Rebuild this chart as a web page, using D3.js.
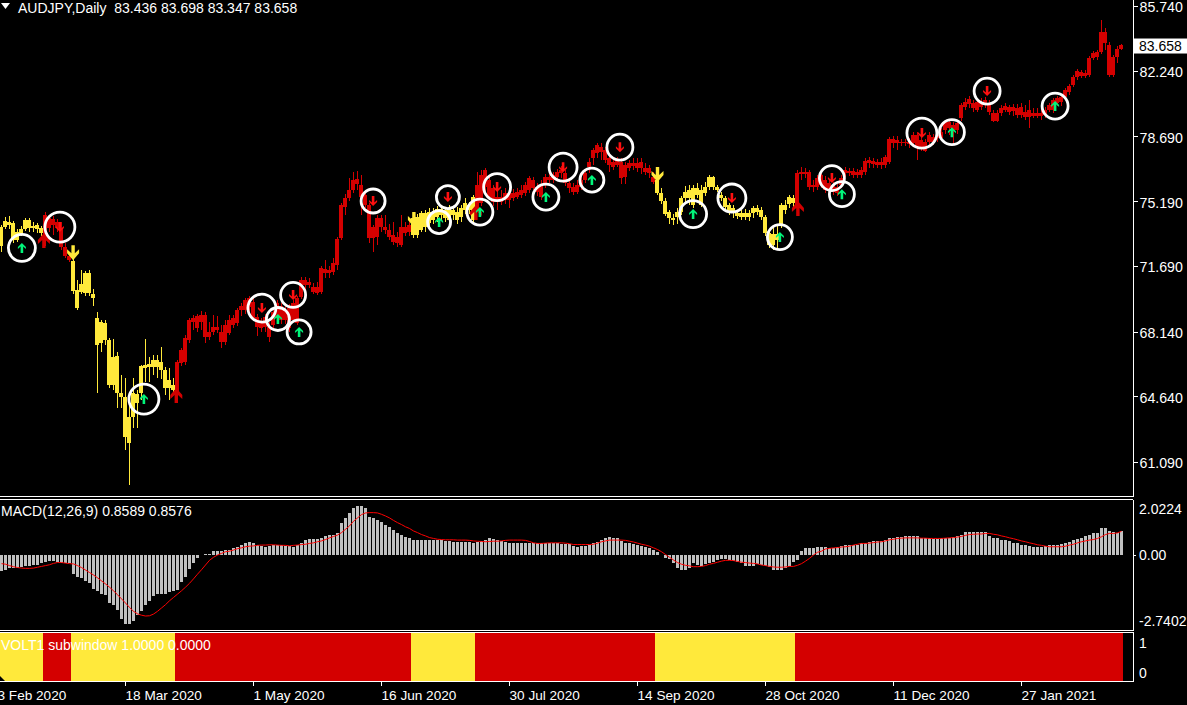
<!DOCTYPE html>
<html><head><meta charset="utf-8">
<script src="https://cdnjs.cloudflare.com/ajax/libs/d3/7.8.5/d3.min.js"></script>
<style>html,body{margin:0;padding:0;background:#000;overflow:hidden}svg{display:block}text{font-family:"Liberation Sans",Arial,sans-serif;font-size:14px;fill:#fff}</style>
</head><body><svg id="c" width="1187" height="705"></svg>
<script>
const opens=[72.76,73.79,74.06,74.01,73.09,73.41,73.68,74.17,73.84,73.90,
73.74,73.09,74.28,74.22,74.06,73.74,72.71,72.22,71.95,70.39,
70.28,70.22,71.30,70.17,68.87,67.52,68.60,67.68,65.25,66.82,
64.82,64.60,62.12,63.52,64.76,64.82,66.17,66.22,66.22,66.60,
66.49,66.06,65.09,65.25,64.87,66.44,66.49,67.68,68.66,68.33,
69.03,69.03,67.85,68.12,68.39,68.12,67.57,68.06,68.49,68.60,
69.30,69.30,69.47,69.74,68.92,68.33,68.39,68.39,68.49,68.87,
69.52,69.30,68.33,68.76,68.60,70.01,70.93,70.82,70.55,70.22,
70.28,71.52,71.47,71.36,71.74,73.20,74.87,75.36,75.79,76.39,
76.06,75.52,74.98,73.20,73.25,74.28,73.79,73.63,73.36,73.25,
72.82,73.79,73.52,73.36,73.36,73.63,74.55,74.01,74.17,74.33,
74.76,74.71,74.17,74.71,74.60,74.33,74.71,74.98,74.17,74.82,
75.09,76.87,76.33,75.90,75.41,75.14,75.25,75.63,75.36,75.41,
75.52,75.63,75.79,76.33,75.95,76.06,76.06,76.33,76.33,76.49,
76.71,76.71,76.17,75.95,75.68,75.95,76.33,77.03,77.52,77.79,
78.11,77.95,77.52,77.30,77.14,77.30,76.49,76.98,77.09,77.25,
76.98,76.98,76.98,76.49,76.33,75.63,75.20,74.60,74.28,74.33,
74.60,75.36,75.79,75.90,75.52,75.79,75.63,75.95,76.49,75.95,
75.52,75.36,74.98,74.82,74.55,74.55,74.55,74.55,74.55,74.82,
74.71,74.33,73.47,72.82,73.41,73.90,74.98,75.03,75.36,74.82,
76.76,76.76,76.76,76.06,75.95,76.06,76.33,76.17,76.06,75.95,
76.06,76.71,76.82,76.82,76.76,76.60,76.76,77.25,77.36,77.30,
77.30,77.14,77.30,78.55,78.49,78.38,78.33,78.38,78.33,78.76,
78.49,78.38,78.38,78.65,78.60,78.60,79.03,79.47,79.30,79.03,
79.68,80.28,80.44,80.49,80.11,80.55,80.39,80.49,79.95,79.52,
79.95,80.11,80.28,80.06,80.22,79.84,80.01,79.74,79.95,79.95,
79.79,79.84,80.11,80.11,80.49,80.55,80.82,81.09,81.47,81.90,
82.17,82.11,82.01,82.93,82.98,83.25,84.33,83.63,82.01,83.00,
83.436];
const closes=[73.79,74.11,73.90,73.09,73.52,73.68,74.17,73.74,73.74,73.68,
73.47,74.44,73.74,73.90,73.74,72.71,72.22,72.01,70.33,69.41,
70.71,71.30,70.22,69.95,67.41,68.66,67.68,65.25,66.76,64.82,
64.60,62.44,63.52,64.82,64.28,66.28,66.33,66.39,66.60,66.22,
66.06,65.09,65.52,64.98,66.49,67.14,67.79,68.76,68.87,68.98,
68.66,67.85,68.12,68.39,68.22,67.57,68.49,68.76,68.87,69.30,
69.52,69.85,69.95,68.87,68.39,68.66,68.92,67.85,69.20,69.68,
68.76,68.76,69.41,69.68,69.95,70.93,70.66,70.66,70.28,70.55,
71.57,71.30,71.30,71.84,73.14,74.98,75.36,75.79,76.33,76.11,
75.41,74.98,73.20,73.79,74.28,73.79,73.63,73.25,72.98,72.93,
73.79,73.47,73.90,74.28,74.33,74.55,73.79,74.60,74.60,74.76,
74.44,74.28,74.82,74.44,74.17,74.82,75.09,74.71,75.41,76.06,
76.60,75.95,75.41,75.14,75.14,75.41,75.63,75.25,75.63,75.68,
75.79,76.06,76.44,75.90,75.68,75.41,76.49,76.49,76.60,76.76,
76.87,76.17,75.90,75.68,76.06,76.33,76.71,77.30,77.95,78.22,
77.84,77.41,77.14,77.03,77.41,76.44,77.14,77.25,77.25,76.98,
77.30,76.76,76.71,76.22,75.63,75.20,74.49,74.28,74.17,74.60,
75.36,75.68,75.36,74.98,75.90,74.98,75.95,76.49,75.95,75.79,
75.36,74.87,74.60,74.60,74.39,74.33,74.33,74.33,74.82,74.60,
74.33,73.47,72.82,73.41,73.09,74.98,74.71,75.41,75.09,76.71,
76.66,76.66,75.95,75.95,76.44,76.60,75.79,75.79,75.68,75.63,
76.44,76.87,76.71,76.60,76.60,76.87,77.36,77.41,77.20,77.14,
77.14,77.57,78.55,78.33,78.33,78.33,78.38,78.28,78.76,78.11,
78.06,77.90,78.76,78.38,78.76,78.93,79.47,79.14,79.03,79.41,
80.39,80.55,80.71,80.22,80.55,80.28,80.66,80.01,79.52,79.95,
80.22,80.33,80.01,80.28,79.84,80.28,79.74,80.11,79.79,79.79,
79.95,80.11,80.39,80.66,80.76,80.82,81.20,81.41,81.90,82.22,
81.95,81.95,82.93,83.20,83.25,84.33,83.74,82.01,83.00,83.41,
83.658];
const highs=[73.90,74.33,74.39,74.11,73.68,73.84,74.28,74.28,74.06,74.01,
73.84,74.60,74.44,74.39,74.22,74.06,72.93,72.44,72.11,70.93,
71.47,71.41,71.47,70.44,69.20,68.76,68.76,67.79,67.74,67.03,
65.79,65.63,64.60,65.63,64.98,66.33,67.74,66.76,66.87,66.87,
67.30,66.22,66.17,65.63,66.60,67.25,67.95,68.87,69.03,69.09,
69.25,69.20,68.66,69.03,68.98,68.49,68.76,69.03,69.03,69.41,
69.68,69.95,70.06,69.95,69.09,68.87,69.09,68.66,69.41,69.85,
69.68,69.52,69.63,69.85,70.06,71.09,71.09,71.03,70.76,70.82,
71.68,72.01,71.68,72.11,73.25,75.09,75.57,76.44,76.76,76.82,
76.60,75.79,75.09,73.90,74.44,74.44,74.44,73.95,74.06,73.52,
74.44,74.06,74.17,74.49,74.49,74.66,74.71,74.82,74.82,74.93,
74.93,74.87,74.98,74.93,74.87,74.98,75.36,75.14,75.52,76.76,
76.87,76.98,76.55,76.06,75.79,75.79,75.90,75.95,75.84,75.90,
76.06,76.22,76.55,76.49,76.17,76.33,76.66,76.71,76.76,76.93,
77.09,76.87,76.44,76.17,76.33,76.60,76.87,77.52,78.06,78.33,
78.33,78.11,77.68,77.52,77.57,77.52,77.30,77.41,77.52,77.52,
77.52,77.25,77.14,76.76,76.87,75.90,75.36,74.71,74.49,74.82,
75.47,76.01,76.06,76.06,76.17,76.06,76.22,76.60,76.55,76.06,
75.68,75.47,75.09,74.98,74.71,74.71,74.76,74.71,74.93,74.98,
74.87,74.44,73.63,73.84,73.84,75.09,75.25,75.52,75.52,76.87,
77.03,76.98,76.87,76.33,76.60,76.76,76.55,76.33,76.22,76.11,
76.60,77.03,76.98,76.98,76.93,77.03,77.52,77.57,77.52,77.47,
77.52,77.68,78.66,78.71,78.71,78.55,78.55,78.60,78.93,78.93,
78.71,78.55,78.93,78.82,78.93,79.14,79.57,79.57,79.47,79.52,
80.49,80.76,80.87,80.66,80.71,80.76,80.82,80.66,80.11,80.11,
80.39,80.49,80.39,80.44,80.44,80.49,80.39,80.66,80.22,80.22,
80.33,80.28,80.49,80.76,80.87,80.93,81.30,81.52,82.01,82.33,
82.28,82.28,83.03,83.30,83.36,84.98,84.55,83.79,83.09,83.57,
83.698];
const lows=[72.44,73.68,73.68,72.93,72.98,73.30,73.57,73.52,73.52,73.47,
73.30,72.76,73.52,73.36,73.52,72.55,72.11,71.90,70.17,69.30,
70.17,70.06,70.06,69.52,64.82,67.03,67.41,65.09,64.98,64.01,
64.01,61.74,59.85,62.93,62.93,64.44,65.41,65.41,65.79,65.63,
65.57,64.71,64.44,64.87,64.71,66.28,66.33,67.52,68.22,68.12,
68.22,67.52,67.68,67.95,68.06,67.25,67.41,67.95,68.33,68.44,
68.98,69.09,69.20,68.76,67.90,68.12,68.12,67.57,68.33,68.66,
68.55,68.55,68.12,68.66,68.49,69.90,70.39,70.49,70.17,70.12,
70.17,71.03,71.03,71.20,71.47,73.09,74.44,75.20,75.63,75.79,
74.44,74.82,72.93,72.44,72.82,73.52,73.41,73.09,72.82,72.71,
72.71,73.30,73.30,73.20,73.20,73.52,73.52,73.74,73.95,74.06,
74.17,74.06,73.84,74.17,73.95,74.06,74.49,74.49,74.06,74.60,
74.93,75.68,75.25,74.93,74.71,74.98,75.03,74.82,75.20,75.30,
75.36,75.47,75.63,75.79,75.47,75.25,75.90,76.17,76.17,76.33,
76.44,76.01,75.63,75.52,75.57,75.79,76.17,76.71,77.14,77.52,
77.41,77.25,76.76,76.87,77.03,76.11,76.11,76.82,76.87,76.76,
76.66,76.60,76.44,76.11,75.52,75.03,74.39,73.95,73.90,73.95,
74.44,75.09,74.98,74.82,75.36,74.87,75.47,75.79,75.79,75.68,
75.20,74.76,74.44,74.28,74.22,74.17,74.17,74.11,74.28,74.44,
74.17,73.30,72.66,72.55,72.66,73.74,74.49,74.82,74.87,74.60,
76.33,76.44,75.79,75.68,75.79,75.90,75.63,75.52,75.52,75.47,
75.90,76.49,76.55,76.44,76.44,76.44,76.60,76.98,76.98,76.98,
76.93,76.98,77.20,78.06,77.95,78.17,78.17,78.06,78.17,77.41,
77.90,77.84,78.22,78.22,78.38,78.44,78.82,78.76,78.22,78.82,
79.52,80.11,80.22,80.01,80.01,80.11,80.22,79.84,79.47,79.47,
79.79,80.01,79.84,79.79,79.68,79.68,79.57,79.14,79.68,79.68,
79.57,79.68,80.01,79.95,80.33,80.33,80.66,80.93,81.36,81.74,
81.84,81.84,81.90,82.82,82.82,83.14,83.36,81.90,81.90,82.65,
83.347];
const macdHist=[-.57,-.54,-.48,-.45,-.45,-.43,-.39,-.38,-.36,-.36,
-.30,-.24,-.23,-.23,-.24,-.30,-.30,-.30,-.69,-.78,
-.84,-.93,-1.02,-1.23,-1.31,-1.41,-1.43,-1.73,-1.79,-1.97,
-2.29,-2.49,-2.49,-2.39,-2.15,-2.01,-1.82,-1.67,-1.49,-1.41,
-1.41,-1.41,-1.34,-1.31,-1.25,-.98,-.78,-.50,-.30,-.12,
.01,.02,.05,.14,.16,.16,.18,.18,.24,.30,
.36,.45,.48,.45,.36,.33,.29,.33,.36,.36,
.36,.33,.33,.30,.36,.42,.54,.57,.57,.57,
.62,.69,.72,.74,.81,1.16,1.35,1.53,1.70,1.78,
1.78,1.70,1.37,1.35,1.28,1.20,1.08,1.02,.90,.78,
.72,.66,.61,.54,.54,.54,.54,.56,.56,.56,
.54,.50,.50,.48,.48,.47,.47,.47,.45,.48,
.50,.56,.62,.57,.54,.50,.47,.44,.44,.44,
.45,.44,.44,.44,.44,.44,.44,.44,.42,.42,
.39,.39,.39,.33,.30,.32,.33,.36,.42,.48,
.56,.62,.66,.63,.60,.51,.42,.42,.39,.36,
.33,.30,.26,.18,.10,-.01,-.10,-.14,-.30,-.45,
-.53,-.53,-.45,-.30,-.36,-.38,-.33,-.30,-.24,-.18,
-.14,-.14,-.18,-.20,-.24,-.30,-.38,-.38,-.38,-.33,
-.36,-.38,-.42,-.54,-.54,-.54,-.45,-.38,-.24,-.18,
.14,.24,.24,.27,.30,.30,.30,.24,.26,.29,
.32,.36,.38,.38,.38,.44,.44,.47,.50,.50,
.50,.54,.60,.62,.66,.66,.68,.68,.68,.68,
.62,.62,.60,.57,.57,.60,.62,.62,.66,.69,
.72,.82,.82,.82,.82,.82,.82,.69,.62,.60,
.56,.54,.50,.45,.42,.38,.36,.33,.30,.30,
.30,.32,.36,.38,.38,.39,.44,.48,.54,.57,
.62,.69,.74,.80,.81,.97,.97,.86,.84,.81,
.8589];
const macdSignal=[-.31,-.33,-.38,-.42,-.45,-.47,-.48,-.48,-.47,-.44,
-.41,-.38,-.35,-.30,-.27,-.27,-.29,-.31,-.32,-.38,
-.45,-.54,-.63,-.72,-.82,-.93,-1.04,-1.16,-1.29,-1.43,
-1.58,-1.73,-1.89,-2.03,-2.12,-2.17,-2.20,-2.19,-2.13,-2.03,
-1.91,-1.79,-1.65,-1.53,-1.41,-1.29,-1.16,-1.02,-.86,-.69,
-.53,-.36,-.19,-.08,0,.06,.12,.14,.18,.23,
.26,.30,.32,.33,.35,.36,.36,.37,.37,.36,
.35,.35,.33,.35,.36,.38,.39,.42,.44,.48,
.51,.56,.62,.67,.72,.81,.93,1.05,1.22,1.34,
1.46,1.52,1.53,1.53,1.52,1.47,1.41,1.34,1.25,1.17,
1.10,1.02,.96,.87,.81,.74,.69,.63,.60,.57,
.56,.55,.55,.55,.54,.54,.54,.53,.51,.50,
.49,.48,.49,.50,.50,.51,.53,.54,.54,.54,
.54,.53,.49,.44,.42,.42,.43,.44,.44,.44,
.44,.43,.41,.38,.38,.38,.38,.38,.39,.43,
.48,.51,.54,.54,.54,.54,.53,.50,.47,.43,
.39,.36,.32,.26,.20,.12,.02,-.08,-.18,-.27,
-.33,-.37,-.39,-.42,-.42,-.41,-.38,-.33,-.30,-.26,
-.22,-.19,-.19,-.20,-.23,-.26,-.27,-.29,-.30,-.32,
-.36,-.38,-.41,-.43,-.44,-.44,-.43,-.41,-.41,-.37,
-.31,-.22,-.12,0,.10,.14,.22,.24,.26,.27,
.29,.30,.32,.36,.39,.42,.42,.43,.45,.47,
.48,.51,.55,.57,.60,.61,.62,.62,.62,.62,
.61,.61,.60,.60,.60,.60,.61,.62,.63,.65,
.67,.71,.74,.75,.76,.76,.78,.78,.75,.73,
.69,.66,.62,.59,.55,.51,.48,.44,.41,.37,
.35,.32,.30,.30,.30,.30,.32,.36,.39,.44,
.48,.51,.54,.56,.60,.66,.74,.78,.78,.80,
.8576];
const voltEndBars=[10,17,43,102,118,163,198,280];
const voltStates=[1,0,1,0,1,0,1,0];
const ringBars=[14.6,65.1,72.9,92.9,111.6,123.9,140.4,154.6,182.6,207.6,230.1,246.4];
const ringPrices=[73.79,69.41,70.12,75.20,75.41,75.95,77.03,78.11,75.36,76.44,78.87,81.14];
const ringUpBars=[5.1,35.6,69.1,74.4,109.4,119.6,136.1,147.6,172.9,194.6,210.1,237.6,263.4];
const ringUpPrices=[72.66,64.49,68.82,68.12,74.06,74.60,75.41,76.33,74.49,73.25,75.57,78.92,80.33];
const switchRedBars=[10.6,43.7,118.6,199.1];
const switchRedPrices=[73.09,64.71,74.60,74.82];
const switchYellowBars=[17.9,103.1,164];
const switchYellowPrices=[72.38,74.17,76.60];
const priceTicks=[85.74,82.24,78.69,75.19,71.69,68.14,64.64,61.09];
const dateLabels=["3 Feb 2020","18 Mar 2020","1 May 2020","16 Jun 2020","30 Jul 2020","14 Sep 2020","28 Oct 2020","11 Dec 2020","27 Jan 2021"];
const dateBars=[-1,31,63,95,127,159,191,223,255];
const macdExtent=[-2.7402,2.0224];
const lastOHLC=[83.436,83.698,83.347,83.658];

const RED="#d40000",YEL="#ffe93b",GREY="#c0c0c0";
const svg=d3.select("#c");
const W=1187,H=705,axisX=1133;
const x=d3.scaleLinear().domain([0,280]).range([1.5,1121.5]);
const y=d3.scaleLinear().domain([61.09,85.74]).range([462,6]);
const ym=d3.scaleLinear().domain(macdExtent).range([631,499]);
const yv=d3.scaleLinear().domain([0,1]).range([673,643]);
svg.append("rect").attr("width",W).attr("height",H).attr("fill","#000");

const stateOf=i=>voltStates[voltEndBars.findIndex(e=>i<=e)];
const crisp=g=>g.attr("shape-rendering","crispEdges");

// candles
const cg=svg.append("g").call(crisp);
const bars=d3.range(closes.length);
cg.selectAll("line.w").data(bars).join("line").attr("class","w")
 .attr("x1",i=>x(i)).attr("x2",i=>x(i)).attr("y1",i=>y(highs[i])).attr("y2",i=>y(lows[i]))
 .attr("stroke",i=>stateOf(i)?YEL:RED).attr("stroke-width",1);
cg.selectAll("rect.b").data(bars).join("rect").attr("class","b")
 .attr("x",i=>x(i)-2.5).attr("width",4)
 .attr("y",i=>y(Math.max(opens[i],closes[i])))
 .attr("height",i=>Math.max(1,Math.abs(y(opens[i])-y(closes[i]))))
 .attr("fill",i=>stateOf(i)?YEL:RED);

// switch arrows
const bigUp="M0,-7L6,0L6,4L1.7,0L1.7,8L-1.7,8L-1.7,0L-6,4L-6,0Z";
const bigDown="M0,7L6,0L6,-4L1.7,0L1.7,-8L-1.7,-8L-1.7,0L-6,-4L-6,0Z";
const smallUp="M0,-5L4,-1L4,1L1.3,-1.5L1.3,5L-1.3,5L-1.3,-1.5L-4,1L-4,-1Z";
const smallDown="M0,5L4,1L4,-1L1.3,1.5L1.3,-5L-1.3,-5L-1.3,1.5L-4,-1L-4,1Z";
function glyphs(bs,ps,path,fill){
 svg.append("g").selectAll("path").data(bs).join("path")
  .attr("d",path).attr("fill",fill)
  .attr("transform",(b,k)=>`translate(${x(b)},${y(ps[k])})`);
}
glyphs(switchRedBars,switchRedPrices,bigUp,RED);
glyphs(switchYellowBars,switchYellowPrices,bigDown,YEL);
glyphs(ringBars,ringPrices,smallDown,"#ff1010");
glyphs(ringUpBars,ringUpPrices,smallUp,"#00f57a");
function rings(bs,ps,radii){
 svg.append("g").selectAll("circle").data(bs).join("circle")
  .attr("cx",b=>x(b)).attr("cy",(b,k)=>y(ps[k])).attr("r",(b,k)=>radii[k])
  .attr("fill","none").attr("stroke","#fff").attr("stroke-width",2.8);
}
rings(ringBars,ringPrices,[15,14,12.5,12,11.5,13.5,14,13,14,12.5,15,13]);
rings(ringUpBars,ringUpPrices,[13.5,15,11.5,12,11.5,13,13,12,13.5,12.5,12.5,12.5,13]);

// MACD
const mg=svg.append("g");
mg.append("g").call(crisp).selectAll("rect").data(bars).join("rect")
 .attr("x",i=>x(i)-1.5).attr("width",3)
 .attr("y",i=>Math.min(ym(0),ym(macdHist[i])))
 .attr("height",i=>Math.abs(ym(0)-ym(macdHist[i])))
 .attr("fill",GREY);
mg.append("path").datum(bars).attr("fill","none").attr("stroke","#ff0000").attr("stroke-width",1)
 .attr("d",d3.line().x(i=>x(i)).y(i=>ym(macdSignal[i])));

// VOLT panel
const vg=svg.append("g").call(crisp);
vg.selectAll("rect").data(voltEndBars).join("rect")
 .attr("x",(e,k)=>k?x(voltEndBars[k-1])+1.5:0)
 .attr("width",(e,k)=>x(e)+1.5-(k?x(voltEndBars[k-1])+1.5:0))
 .attr("y",632.5).attr("height",48)
 .attr("fill",(e,k)=>voltStates[k]?YEL:RED);
svg.append("path").attr("d","M0,676L5,681L0,681Z").attr("fill","#000");

// frame lines
const lg=svg.append("g").call(crisp).attr("stroke","#fff").attr("stroke-width",1);
[[0,W,496.5],[0,W,499.5],[0,W,630.5],[0,W,632],[0,axisX,681.5]].forEach(([a,b,v])=>{
 lg.append("line").attr("x1",a).attr("x2",b>axisX?axisX:b).attr("y1",v).attr("y2",v);
});
[[0,496.5],[499.5,630.5],[632,681.5]].forEach(([a,b])=>{
 lg.append("line").attr("x1",axisX+.5).attr("x2",axisX+.5).attr("y1",a).attr("y2",b);
});

// price axis
const pa=svg.append("g").attr("transform",`translate(${axisX+.5},0)`)
 .call(d3.axisRight(y).tickValues(priceTicks).tickFormat(d3.format(".3f")).tickSize(4).tickPadding(2));
pa.select(".domain").remove();
pa.selectAll("line").attr("stroke","#fff").call(crisp);
pa.selectAll("text").attr("fill","#fff").attr("dy","0.42em").style("font-family",'"Liberation Sans",Arial,sans-serif').style("font-size","14.2px");

// current price tag
svg.append("rect").attr("x",axisX+1).attr("width",W-axisX-1).attr("y",y(lastOHLC[3])-6).attr("height",15).attr("fill","#fff");
svg.append("text").attr("x",1139).attr("y",y(lastOHLC[3])+1.5).attr("dy",".35em").style("fill","#000").text(d3.format(".3f")(lastOHLC[3]));

// macd axis labels
const macdLabels=[[macdExtent[1],10,"2.0224"],[0,0,"0.00"],[macdExtent[0],-10,"-2.7402"]];
svg.append("g").selectAll("text").data(macdLabels).join("text")
 .attr("x",1139).attr("y",d=>ym(d[0])+d[1]).attr("dy",".35em").text(d=>d[2]);
svg.append("line").attr("x1",axisX).attr("x2",axisX+3).attr("y1",ym(0)).attr("y2",ym(0)).attr("stroke","#fff").call(crisp);

// volt axis labels
svg.append("g").selectAll("text").data([1,0]).join("text")
 .attr("x",1139).attr("y",d=>yv(d)).attr("dy",".35em").text(d=>d);

// date axis
const dg=svg.append("g");
dg.selectAll("line").data(dateBars).join("line")
 .attr("x1",b=>x(b)).attr("x2",b=>x(b)).attr("y1",681).attr("y2",686)
 .attr("stroke","#fff").call(crisp);
dg.selectAll("text").data(dateBars).join("text")
 .attr("x",b=>x(b)).attr("y",695).attr("dy",".35em").style("font-size","13.6px").text((b,k)=>dateLabels[k]);

// titles
svg.append("path").attr("d","M1,3L10,3L5.5,9Z").attr("fill","#fff");
svg.append("text").attr("x",18).attr("y",8).attr("dy",".35em").text("AUDJPY,Daily  "+lastOHLC.map(d3.format(".3f")).join(" ")).attr("xml:space","preserve");
svg.append("text").attr("x",1).attr("y",511).attr("dy",".35em").text("MACD(12,26,9) 0.8589 0.8576");
svg.append("text").attr("x",1).attr("y",645).attr("dy",".35em").text("VOLT1 subwindow 1.0000 0.0000");
</script></body></html>
